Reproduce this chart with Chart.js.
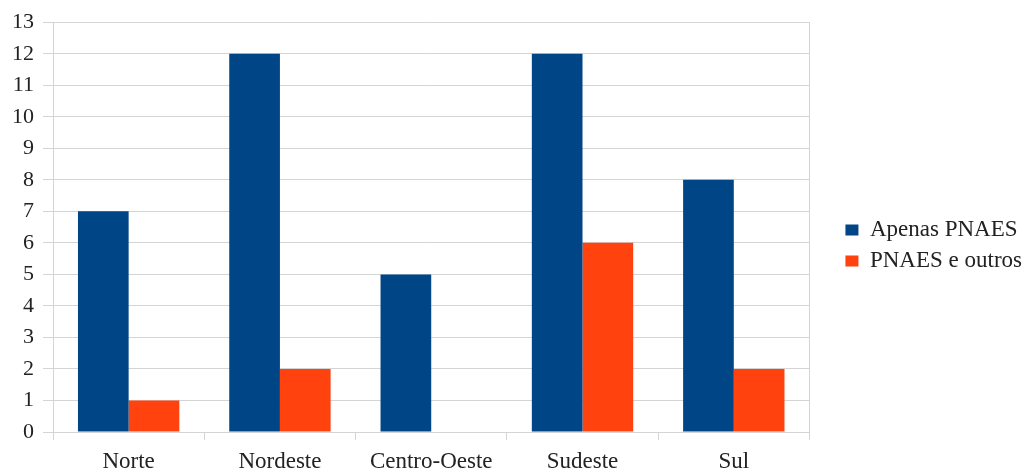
<!DOCTYPE html>
<html>
<head>
<meta charset="utf-8">
<script src="https://cdn.jsdelivr.net/npm/chart.js@4.4.0/dist/chart.umd.min.js"></script>
<style>
  html, body { margin: 0; padding: 0; background: #fff; }
  #wrap { width: 1026px; height: 469px; }
</style>
</head>
<body>
<div id="wrap"><canvas id="c"></canvas></div>
<script>
let regions = ['Norte', 'Nordeste', 'Centro-Oeste', 'Sudeste', 'Sul'];
let apenasPnaes = [7, 12, 5, 12, 8];
let pnaesOutros = [1, 2, 0, 6, 2];
let yTicks = [0, 1, 2, 3, 4, 5, 6, 7, 8, 9, 10, 11, 12, 13];

const gridColor = '#d4d4d4';
const legendGapPx = 28;

// right border of the plot
const plotBorder = {
    id: 'plotBorder',
    afterDraw(chart) {
        const a = chart.chartArea;
        const c = chart.ctx;
        c.save();
        c.strokeStyle = gridColor;
        c.lineWidth = 1;
        c.beginPath();
        c.moveTo(Math.round(a.right) + 0.5, a.top);
        c.lineTo(Math.round(a.right) + 0.5, a.bottom);
        c.stroke();
        c.restore();
    }
};

// leave some empty room between the plot and the legend
const legendGap = {
    id: 'legendGap',
    beforeLayout(chart) {
        const lg = chart.legend;
        if (lg && !lg._gapPatched) {
            const fit = lg.fit;
            lg.fit = function () {
                fit.call(this);
                this.width += legendGapPx;
            };
            lg._gapPatched = true;
        }
    },
    afterLayout(chart) {
        if (chart.legend) chart.legend.left += legendGapPx;
    }
};

Chart.defaults.font.family = '"Liberation Serif", "Times New Roman", serif';
Chart.defaults.color = '#222';

const ctx = document.getElementById('c').getContext('2d');
const myChart = new Chart(ctx, {
    type: 'bar',
    data: {
        labels: regions,
        datasets: [
            {
                label: 'Apenas PNAES',
                data: apenasPnaes,
                backgroundColor: '#004586',
                barPercentage: 1,
                categoryPercentage: 0.67
            },
            {
                label: 'PNAES e outros',
                data: pnaesOutros,
                backgroundColor: '#ff420e',
                barPercentage: 1,
                categoryPercentage: 0.67
            }
        ]
    },
    options: {
        responsive: true,
        maintainAspectRatio: false,
        animation: false,
        layout: {
            padding: { left: 3, right: -6, top: 22, bottom: 0 }
        },
        scales: {
            y: {
                min: 0,
                max: 13,
                afterBuildTicks: (axis) => {
                    axis.ticks = yTicks.map(v => ({ value: v }));
                },
                ticks: {
                    font: { size: 22 },
                    padding: 9
                },
                grid: {
                    color: gridColor,
                    tickLength: 10
                },
                border: { color: gridColor }
            },
            x: {
                offset: true,
                afterFit: (axis) => { axis.height = 37; },
                ticks: {
                    font: { size: 23, lineHeight: 1 },
                    padding: 10
                },
                grid: {
                    offset: true,
                    drawOnChartArea: false,
                    color: gridColor,
                    tickLength: 8
                },
                border: { color: gridColor }
            }
        },
        plugins: {
            legend: {
                position: 'right',
                labels: {
                    boxWidth: 13,
                    boxHeight: 11,
                    padding: 8,
                    font: { size: 23 },
                    color: '#222'
                }
            },
            tooltip: { enabled: false }
        }
    },
    plugins: [plotBorder, legendGap]
});
</script>
</body>
</html>
